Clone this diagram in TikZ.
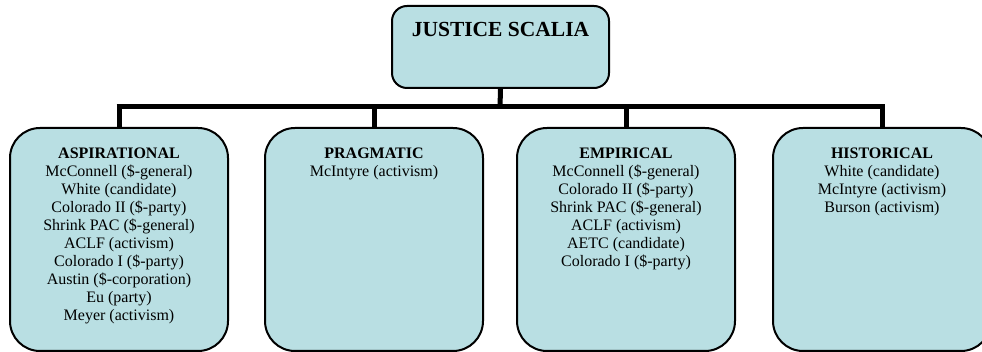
\documentclass[tikz,border=0pt]{standalone}
\usepackage{fontspec}
\setmainfont{Liberation Serif}
\definecolor{boxfill}{RGB}{185,223,227}
\begin{document}
\begin{tikzpicture}[x=1pt,y=-1pt,
  catbox/.style={draw=black, line width=2pt, fill=boxfill, rounded corners=30pt,
    minimum width=218pt, minimum height=223pt, inner sep=0pt, anchor=north},
  topbox/.style={draw=black, line width=2pt, fill=boxfill, rounded corners=15pt,
    minimum width=217pt, minimum height=82pt, inner sep=0pt, anchor=north},
  boxtext/.style={align=center, inner sep=0pt, anchor=north,
    font=\fontsize{16pt}{18pt}\selectfont},
  conn/.style={line width=5pt}]
\useasboundingbox (0,0) rectangle (982,352);
% boxes
\node[topbox] (top) at (500.5,5) {};
\node[catbox] (asp) at (119,127) {};
\node[catbox] (pra) at (374,127) {};
\node[catbox] (emp) at (626,127) {};
\node[catbox] (his) at (882,127) {};
% connectors
\coordinate (hub) at (500,107);
\coordinate (barL) at (119,107);
\coordinate (barR) at (882,107);
\draw[conn] (top.south) -- (hub);
\draw[conn] ([xshift=-2.5pt]barL) -- ([xshift=2.5pt]barR);
\draw[conn] ([yshift=-2.5pt]barL) -- (asp.north);
\draw[conn] (pra.north |- hub) -- (pra.north);
\draw[conn] (emp.north |- hub) -- (emp.north);
\draw[conn] ([yshift=-2.5pt]barR) -- (his.north);
% texts
\node[align=center, inner sep=0pt, anchor=base, font=\fontsize{21.5pt}{24pt}\selectfont\bfseries] (toptext) at (500.5,37) {JUSTICE SCALIA};
\node[boxtext] (asptext) at (119,148) {\textbf{ASPIRATIONAL}\\
McConnell (\$-general)\\
White (candidate)\\
Colorado II (\$-party)\\
Shrink PAC (\$-general)\\
ACLF (activism)\\
Colorado I (\$-party)\\
Austin (\$-corporation)\\
Eu (party)\\
Meyer (activism)};
\node[boxtext] (pratext) at (374,148) {\textbf{PRAGMATIC}\\
McIntyre (activism)};
\node[boxtext] (emptext) at (626,148) {\textbf{EMPIRICAL}\\
McConnell (\$-general)\\
Colorado II (\$-party)\\
Shrink PAC (\$-general)\\
ACLF (activism)\\
AETC (candidate)\\
Colorado I (\$-party)};
\node[boxtext] (histext) at (882,148) {\textbf{HISTORICAL}\\
White (candidate)\\
McIntyre (activism)\\
Burson (activism)};
\end{tikzpicture}
\end{document}
